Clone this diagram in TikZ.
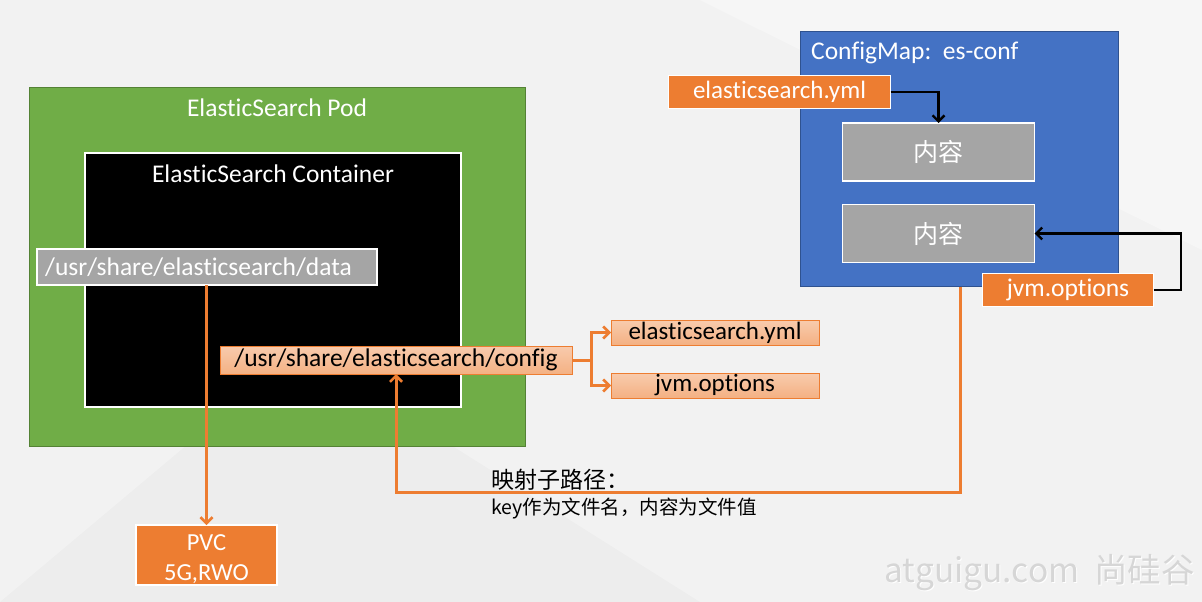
\documentclass[tikz,border=0pt]{standalone}
\usepackage{fontspec}
\setmainfont{Carlito}[Ligatures={NoCommon}]
\newfontfamily\cjk{Noto Sans CJK SC}
\usetikzlibrary{arrows.meta}
\definecolor{bgc}{HTML}{F2F2F2}
\definecolor{podg}{HTML}{70AD47}
\definecolor{podb}{HTML}{548235}
\definecolor{cmb}{HTML}{4472C4}
\definecolor{cmbd}{HTML}{2F528F}
\definecolor{org}{HTML}{ED7D31}
\definecolor{grayb}{HTML}{A5A5A5}
\definecolor{salt}{HTML}{F8CBAD}
\definecolor{salb}{HTML}{F4B183}
\definecolor{wm}{HTML}{D6D6D6}
\tikzset{
  box/.style={rectangle, inner sep=0pt, outer sep=0pt},
  orangebox/.style={box, fill=org, draw=white, line width=1.5pt, text=white},
  graybox/.style={box, fill=grayb, draw=white, line width=1.5pt, text=white},
  salbox/.style={box, top color=salt, bottom color=salb, draw=org, line width=1pt, text=black},
  oline/.style={draw=org, line width=3pt},
  oarrow/.style={oline, -{Straight Barb[length=6pt,width=12pt,line width=2.6pt]}},
  karrow/.style={draw=black, line width=2.6pt, -{Straight Barb[length=6pt,width=12pt,line width=2.4pt]}},
  big/.style={font=\fontsize{25.5}{30}\selectfont}
}
\begin{document}
\begin{tikzpicture}[x=1pt,y=-1pt]
\useasboundingbox (0,0) rectangle (1202,602);
\fill[bgc] (0,0) rectangle (1202,602);
\fill[white,opacity=0.35] (700,0) -- (1202,0) -- (1202,250) -- cycle;
\fill[black,opacity=0.02] (0,602) -- (300,350) -- (700,602) -- cycle;

% Pod
\node[box, fill=podg, draw=podb, line width=0.8pt, minimum width=496pt, minimum height=359pt] (pod) at (277,266.5) {};
\node[text=white, big] (podt) at (277,108) {ElasticSearch Pod};
% Container
\node[box, fill=black, draw=white, line width=2pt, minimum width=376pt, minimum height=254pt] (ctr) at (273,280) {};
\node[text=white, big] (ctrt) at (273,174) {ElasticSearch Container};
% data path
\node[graybox, minimum width=340pt, minimum height=36pt] (data) at (207,267) {};
\node[anchor=west, text=white, big, inner sep=0pt] (datat) at (45,267) {/usr/share/elasticsearch/data};
% config path
\node[salbox, minimum width=352pt, minimum height=28pt, big] (cfg) at (396,360) {/usr/share/elasticsearch/config};
% files
\node[salbox, minimum width=208pt, minimum height=25pt, font=\fontsize{25}{29}\selectfont] (fyml) at (715,332.5) {elasticsearch.yml};
\node[salbox, minimum width=208pt, minimum height=25pt, font=\fontsize{25}{29}\selectfont] (fjvm) at (715,385.5) {jvm.options};
% PVC
\node[orangebox, minimum width=141pt, minimum height=60pt, align=center, font=\fontsize{24.5}{30}\selectfont] (pvc) at (206.5,555) {};
\node[text=white, align=center, font=\fontsize{24.5}{30}\selectfont, inner sep=0pt] (pvct) at (206.5,559) {PVC\\5G,RWO};

% ConfigMap
\node[box, fill=cmb, draw=cmbd, line width=0.8pt, minimum width=318pt, minimum height=255pt] (cm) at (959.5,159) {};
\node[anchor=west, text=white, big, inner sep=0pt] (cmt) at (811,53) {ConfigMap:\ \ es-conf};
\node[orangebox, minimum width=222pt, minimum height=33pt, font=\fontsize{25}{29}\selectfont] (cyml) at (779.5,92) {elasticsearch.yml};
\node[graybox, minimum width=192pt, minimum height=58pt, font=\cjk\fontsize{25}{29}\selectfont] (c1) at (938.5,152) {内容};
\node[graybox, minimum width=192pt, minimum height=58pt, font=\cjk\fontsize{25}{29}\selectfont] (c2) at (938.5,233.5) {内容};
\node[orangebox, minimum width=171pt, minimum height=33pt, big] (cjvm) at (1068,290) {jvm.options};

% connectors
\draw[oarrow] (pvc.north |- data.south) -- (pvc.north);
\coordinate (br) at (591,360);
\draw[oline] (cfg.east) -- (br);
\draw[oarrow] (br) |- (fyml.west);
\draw[oarrow] (br) |- (fjvm.west);
\draw[oarrow] (cm.south -| 960,0) -- (960,492) -| (cfg.south);
\draw[karrow] (cyml.east) -| (c1.north);
\draw[karrow] (cjvm.east) -- (1181,290) |- (c2.east);

% labels
\node[anchor=west, inner sep=0pt, font=\cjk\fontsize{23}{27}\selectfont] (lab1) at (491,480) {映射子路径：};
\node[anchor=west, inner sep=0pt, font=\cjk\fontsize{19.5}{23}\selectfont] (lab2) at (491,509) {key作为文件名，内容为文件值};

% watermark
\node[anchor=east, inner sep=0pt, text=white, font=\cjk\fontsize{33.5}{38}\selectfont] (wm2) at (1196,574) {atguigu.com\ \ 尚硅谷};
\node[anchor=east, inner sep=0pt, text=wm, font=\cjk\fontsize{33.5}{38}\selectfont] (wm) at (1195,573) {atguigu.com\ \ 尚硅谷};
\end{tikzpicture}
\end{document}
